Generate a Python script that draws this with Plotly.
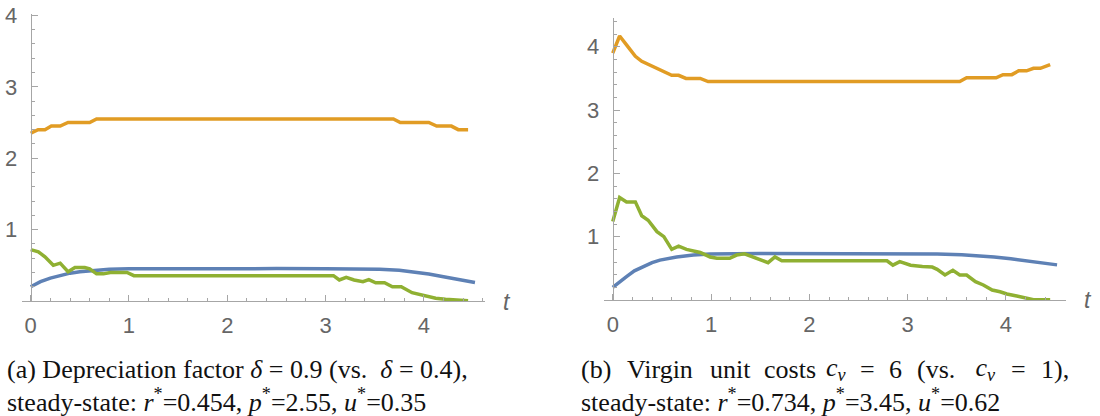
import plotly.graph_objects as go

# ---------------- data ----------------
# Panel (a): depreciation factor 0.9
a_p_t = [0, 0.075, 0.145, 0.21, 0.30, 0.38, 0.60, 0.67, 3.69, 3.76, 4.05, 4.13, 4.28, 4.35, 4.45]
a_p_v = [2.35, 2.40, 2.40, 2.45, 2.45, 2.50, 2.50, 2.55, 2.55, 2.50, 2.50, 2.45, 2.45, 2.40, 2.40]

a_r_t = [0, 0.1, 0.2, 0.3, 0.4, 0.5, 0.6, 0.8, 1.0, 1.5, 2.0, 2.5, 3.0, 3.3, 3.55, 3.75, 3.9, 4.05, 4.2, 4.35, 4.52]
a_r_v = [0.20, 0.27, 0.32, 0.36, 0.39, 0.41, 0.425, 0.443, 0.450, 0.454, 0.454, 0.454, 0.453, 0.450, 0.444, 0.430, 0.41, 0.378, 0.34, 0.30, 0.26]

a_u_t = [0, 0.078, 0.145, 0.23, 0.30, 0.38, 0.45, 0.55, 0.60, 0.67, 0.74, 0.81, 0.98, 1.05, 3.08, 3.14, 3.21, 3.29,
         3.38, 3.44, 3.51, 3.60, 3.68, 3.77, 3.88, 3.97, 4.12, 4.22, 4.36, 4.45]
a_u_v = [0.72, 0.69, 0.62, 0.50, 0.53, 0.41, 0.47, 0.47, 0.45, 0.38, 0.38, 0.40, 0.40, 0.355, 0.355, 0.294, 0.33, 0.294,
         0.27, 0.30, 0.256, 0.256, 0.20, 0.20, 0.116, 0.084, 0.038, 0.024, 0.005, 0.005]

# Panel (b): virgin unit costs 6
b_p_t = [0, 0.07, 0.14, 0.23, 0.295, 0.38, 0.48, 0.60, 0.67, 0.745, 0.89, 0.97, 3.53, 3.60, 3.90, 3.97, 4.06, 4.13,
         4.21, 4.28, 4.35, 4.45]
b_p_v = [3.90, 4.17, 4.03, 3.85, 3.77, 3.71, 3.64, 3.55, 3.55, 3.50, 3.50, 3.45, 3.45, 3.51, 3.51, 3.56, 3.56, 3.62,
         3.62, 3.66, 3.66, 3.72]

b_r_t = [0, 0.07, 0.14, 0.22, 0.31, 0.40, 0.48, 0.65, 0.82, 0.99, 1.5, 2.0, 2.5, 3.0, 3.3, 3.55, 3.75, 3.88, 4.05, 4.22, 4.4, 4.52]
b_r_v = [0.20, 0.29, 0.37, 0.46, 0.53, 0.59, 0.63, 0.68, 0.71, 0.725, 0.734, 0.734, 0.734, 0.732, 0.725, 0.715, 0.697, 0.680, 0.652, 0.620, 0.583, 0.555]

b_u_t = [0, 0.07, 0.14, 0.23, 0.295, 0.36, 0.45, 0.52, 0.60, 0.67, 0.75, 0.89, 0.99, 1.06, 1.19, 1.26, 1.34, 1.49,
         1.58, 1.65, 1.72, 2.79, 2.85, 2.92, 3.03, 3.15, 3.25, 3.30, 3.38, 3.46, 3.53, 3.60, 3.69, 3.77, 3.86, 3.94,
         4.01, 4.11, 4.20, 4.28, 4.45]
b_u_v = [1.24, 1.62, 1.55, 1.55, 1.33, 1.26, 1.08, 1.00, 0.80, 0.85, 0.80, 0.75, 0.68, 0.66, 0.66, 0.71, 0.73, 0.64,
         0.59, 0.68, 0.62, 0.62, 0.55, 0.605, 0.55, 0.53, 0.52, 0.485, 0.395, 0.47, 0.395, 0.395, 0.29, 0.237, 0.158,
         0.13, 0.095, 0.063, 0.037, 0.005, 0.005]

y_ticks = [1, 2, 3, 4]
x_ticks = [0, 1, 2, 3, 4]

NB = "\u00a0"
# caption lines
cap_a1 = "(a) Depreciation factor <i>δ</i> = 0.9 (vs." + NB + NB + "<i>δ</i> = 0.4),"
cap_a2 = "steady-state: <i>r</i><sup>*</sup>=0.454, <i>p</i><sup>*</sup>=2.55, <i>u</i><sup>*</sup>=0.35"
cap_b1_words = ["(b)", "Virgin", "unit", "costs", "<i>c<sub>v</sub></i>", "=", "6", "(vs.",
                NB + "<i>c<sub>v</sub></i>", "=", "1),"]
cap_b2 = "steady-state: <i>r</i><sup>*</sup>=0.734, <i>p</i><sup>*</sup>=3.45, <i>u</i><sup>*</sup>=0.62"

BLUE = "#5E81B5"
ORANGE = "#E19C24"
GREEN = "#8FB032"
AXIS = "#A6A6A6"
LABEL = "#666666"

fig = go.Figure()

def add(t, v, color, xa, ya):
    fig.add_trace(go.Scatter(x=t, y=v, mode="lines", line=dict(color=color, width=3.5),
                             xaxis=xa, yaxis=ya, showlegend=False, hoverinfo="skip"))

add(a_r_t, a_r_v, BLUE, "x", "y")
add(a_p_t, a_p_v, ORANGE, "x", "y")
add(a_u_t, a_u_v, GREEN, "x", "y")
add(b_r_t, b_r_v, BLUE, "x2", "y2")
add(b_p_t, b_p_v, ORANGE, "x2", "y2")
add(b_u_t, b_u_v, GREEN, "x2", "y2")

W, H = 1100, 416

def px_x(p):
    return p / W

def px_y(p):
    return 1 - p / H

tickfont = dict(family="Liberation Sans, Arial, sans-serif", size=22, color=LABEL)

def xaxis(xpx, xrng, anchor):
    return dict(domain=[px_x(xpx[0]), px_x(xpx[1])], range=xrng, showgrid=False, zeroline=False,
                showline=True, linecolor=AXIS, linewidth=1, ticks="inside", ticklen=6, tickcolor=AXIS,
                tickvals=x_ticks, tickfont=tickfont, ticklabelstandoff=5, automargin=False, anchor=anchor,
                ticklabeloverflow="allow",
                minor=dict(dtick=0.2, tick0=0, ticks="inside", ticklen=3, tickcolor=AXIS, showgrid=False))

def yaxis(ypx, yrng, xpos):
    return dict(domain=[px_y(ypx[0]), px_y(ypx[1])], range=yrng, showgrid=False, zeroline=False,
                showline=True, linecolor=AXIS, linewidth=1, ticks="inside", ticklen=6, tickcolor=AXIS,
                tickvals=y_ticks, tickfont=tickfont, ticklabelstandoff=9, automargin=False,
                anchor="free", position=px_x(xpos), ticklabeloverflow="allow",
                minor=dict(dtick=0.2, tick0=0, ticks="inside", ticklen=3, tickcolor=AXIS, showgrid=False))

fig.update_layout(
    xaxis=xaxis((21.85, 484.8), [-0.09, 4.62], "y"),
    yaxis=yaxis((301, 14), [0, 4.02], 30.7),
    xaxis2=xaxis((603.9, 1065.9), [-0.09, 4.61], "y2"),
    yaxis2=yaxis((300, 18.3), [0, 4.45], 612.7),
)

anns = []
tfont = dict(family="Liberation Sans, Arial, sans-serif", size=23, color=LABEL)
anns.append(dict(x=px_x(507), y=px_y(302), xref="paper", yref="paper", text="<i>t</i>", showarrow=False,
                 font=tfont, xanchor="center", yanchor="middle"))
anns.append(dict(x=px_x(1088), y=px_y(300), xref="paper", yref="paper", text="<i>t</i>", showarrow=False,
                 font=tfont, xanchor="center", yanchor="middle"))

cfont = dict(family="Liberation Serif, Times New Roman, serif", size=26, color="#111111")

def cap(xp, ypx, txt, anchor="left"):
    anns.append(dict(x=px_x(xp), y=px_y(ypx), xref="paper", yref="paper", text=txt, showarrow=False,
                     font=cfont, xanchor=anchor, yanchor="middle", align="left", borderpad=0))

cap(6, 369, cap_a1)
cap(6, 400, cap_a2)
cap(580, 400, cap_b2)
# justified first line of (b): words spread evenly over the line width
b1_x = [580, 626, 709, 763, 825, 859, 888, 916, 968, 1010, 1040]
for w, xp in zip(cap_b1_words, b1_x):
    cap(xp, 369, w)

fig.update_layout(width=W, height=H, margin=dict(l=0, r=0, t=0, b=0), paper_bgcolor="white",
                  plot_bgcolor="white", annotations=anns, hovermode=False)

# remove the default 8px page margin so the figure sits at the window's top-left corner
fig.write_html("out.html", config={"displayModeBar": False, "staticPlot": True},
               post_script="document.body.style.margin='0px';")
